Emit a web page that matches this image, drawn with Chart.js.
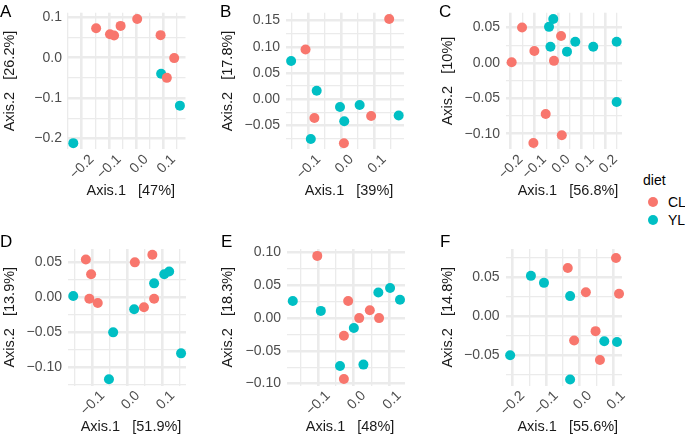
<!DOCTYPE html>
<html>
<head>
<meta charset="utf-8">
<script src="https://cdn.jsdelivr.net/npm/chart.js@4.4.0/dist/chart.umd.min.js"></script>
<style>
  html, body { margin: 0; padding: 0; background: #fff; }
  body { width: 685px; height: 436px; position: relative; overflow: hidden; font-family: 'Liberation Sans', Arial, sans-serif; }
  canvas { position: absolute; }
  .tag { position: absolute; font-size: 17px; line-height: 17px; color: #000; }
  .leg { position: absolute; font-size: 14px; line-height: 14px; color: #000; }
  .dot { position: absolute; width: 10px; height: 10px; border-radius: 50%; }
</style>
</head>
<body>
<script>
// colours for the two diets
const dietLevels = ['CL', 'YL'];
const dietColors = ['#F8766D', '#00BFC4'];

// axis percentages shown in the titles
const axis1Pct = ['47%', '39%', '56.8%', '51.9%', '48%', '55.6%'];
const axis2Pct = ['26.2%', '17.8%', '10%', '13.9%', '18.3%', '14.8%'];

// panel A  [Axis.1, Axis.2]
const aCL = [[-0.147, 0.073], [-0.096, 0.058], [-0.081, 0.055], [-0.057, 0.079], [0.004, 0.096], [0.090, 0.056], [0.140, -0.001], [0.113, -0.050]];
const aYL = [[-0.231, -0.212], [0.092, -0.040], [0.161, -0.119]];
const aXTicks = [-0.2, -0.1, 0, 0.1];
const aXLabels = ['−0.2', '−0.1', '0.0', '0.1'];
const aYTicks = [-0.2, -0.1, 0, 0.1];
const aYLabels = ['−0.2', '−0.1', '0.0', '0.1'];

// panel B
const bCL = [[0.146, 0.153], [-0.109, 0.095], [-0.082, -0.036], [0.008, -0.084], [0.091, -0.032]];
const bYL = [[-0.153, 0.073], [-0.075, 0.016], [-0.004, -0.015], [0.009, -0.042], [0.056, -0.011], [0.175, -0.031], [-0.093, -0.076]];
const bXTicks = [-0.1, 0, 0.1];
const bXLabels = ['−0.1', '0.0', '0.1'];
const bYTicks = [-0.05, 0, 0.05, 0.1, 0.15];
const bYLabels = ['−0.05', '0.00', '0.05', '0.10', '0.15'];

// panel C
const cCL = [[-0.152, 0.050], [-0.100, 0.017], [-0.196, 0.001], [-0.017, 0.003], [0.013, 0.038], [-0.052, -0.072], [0.016, -0.102], [-0.104, -0.113]];
const cYL = [[-0.038, 0.051], [-0.020, 0.062], [-0.032, 0.023], [0.038, 0.016], [0.073, 0.030], [0.149, 0.023], [0.248, 0.030], [0.248, -0.055]];
const cXTicks = [-0.2, -0.1, 0, 0.1, 0.2];
const cXLabels = ['−0.2', '−0.1', '0.0', '0.1', '0.2'];
const cYTicks = [-0.1, -0.05, 0, 0.05];
const cYLabels = ['−0.10', '−0.05', '0.00', '0.05'];

// panel D
const dCL = [[-0.119, 0.054], [-0.104, 0.033], [-0.109, -0.002], [-0.085, -0.008], [0.021, 0.050], [0.071, 0.061], [0.047, -0.014], [0.076, -0.002]];
const dYL = [[-0.155, 0.002], [-0.041, -0.050], [-0.053, -0.117], [0.019, -0.017], [0.076, 0.020], [0.105, 0.033], [0.119, 0.037], [0.153, -0.080]];
const dXTicks = [-0.1, 0, 0.1];
const dXLabels = ['−0.1', '0.0', '0.1'];
const dYTicks = [-0.1, -0.05, 0, 0.05];
const dYLabels = ['−0.10', '−0.05', '0.00', '0.05'];

// panel E
const eCL = [[-0.102, 0.095], [-0.015, 0.026], [-0.027, -0.027], [0.016, 0.000], [0.046, 0.012], [0.072, 0.000], [-0.027, -0.093]];
const eYL = [[-0.171, 0.026], [-0.092, 0.011], [0.001, -0.015], [-0.038, -0.073], [0.028, -0.071], [0.070, 0.039], [0.103, 0.046], [0.131, 0.028]];
const eXTicks = [-0.1, 0, 0.1];
const eXLabels = ['−0.1', '0.0', '0.1'];
const eYTicks = [-0.1, -0.05, 0, 0.05, 0.1];
const eYLabels = ['−0.10', '−0.05', '0.00', '0.05', '0.10'];

// panel F
const fCL = [[-0.035, 0.062], [0.019, 0.031], [0.048, -0.019], [-0.016, -0.031], [0.061, -0.056], [0.109, 0.075], [0.118, 0.029]];
const fYL = [[-0.145, 0.052], [-0.106, 0.043], [-0.028, 0.026], [0.074, -0.032], [-0.028, -0.081], [-0.207, -0.050], [0.112, -0.033]];
const fXTicks = [-0.2, -0.1, 0, 0.1];
const fXLabels = ['−0.2', '−0.1', '0.0', '0.1'];
const fYTicks = [-0.05, 0, 0.05];
const fYLabels = ['−0.05', '0.00', '0.05'];

// where each panel sits on the page and the visible axis limits
const panels = [
  { tag: 'A', cl: aCL, yl: aYL, xt: aXTicks, xl: aXLabels, yt: aYTicks, yl2: aYLabels, xr: [-0.2504, 0.1816], yr: [-0.2273, 0.1117], box: [68, 12.7, 185.5, 149.3], ytx: 9.3, xty: 191.5, tagPos: [0, 3] },
  { tag: 'B', cl: bCL, yl: bYL, xt: bXTicks, xl: bXLabels, yt: bYTicks, yl2: bYLabels, xr: [-0.1686, 0.1912], yr: [-0.0956, 0.1651], box: [286, 12.7, 404, 149.3], ytx: 228, xty: 191.5, tagPos: [220, 3] },
  { tag: 'C', cl: cCL, yl: cYL, xt: cXTicks, xl: cXLabels, yt: cYTicks, yl2: cYLabels, xr: [-0.2199, 0.2706], yr: [-0.1219, 0.0710], box: [506, 12.7, 622, 149.3], ytx: 447.5, xty: 191.5, tagPos: [439, 3] },
  { tag: 'D', cl: dCL, yl: dYL, xt: dXTicks, xl: dXLabels, yt: dYTicks, yl2: dYLabels, xr: [-0.170, 0.1671], yr: [-0.1259, 0.0691], box: [68, 249, 186, 385.5], ytx: 9.3, xty: 427.5, tagPos: [0, 233] },
  { tag: 'E', cl: eCL, yl: eYL, xt: eXTicks, xl: eXLabels, yt: eYTicks, yl2: eYLabels, xr: [-0.1873, 0.1451], yr: [-0.1029, 0.1055], box: [287, 249, 405, 385.5], ytx: 228, xty: 427.5, tagPos: [221, 233] },
  { tag: 'F', cl: fCL, yl: fYL, xt: fXTicks, xl: fXLabels, yt: fYTicks, yl2: fYLabels, xr: [-0.2209, 0.1269], yr: [-0.0888, 0.0865], box: [505.5, 249, 622, 385.5], ytx: 448, xty: 427.5, tagPos: [440, 233] }
];

Chart.defaults.font.family = "'Liberation Sans', Arial, sans-serif";
Chart.defaults.animation = false;

const TICK_SIZE = 14, TITLE_SIZE = 14.5, GRID = '#EBEBEB';

// majors plus the half-way minor lines ggplot draws, kept inside the limits
function gridValues(majors, range) {
  const step = majors[1] - majors[0];
  const vals = [majors[0] - step / 2];
  majors.forEach(m => { vals.push(m, m + step / 2); });
  return vals.map(v => Math.round(v * 1e6) / 1e6)
    .filter(v => v >= range[0] - 1e-6 && v <= range[1] + 1e-6);
}
const isMajor = (majors, v) => majors.some(m => Math.abs(m - v) < 1e-6);
function labelOf(majors, labels, v) {
  const i = majors.findIndex(m => Math.abs(m - v) < 1e-6);
  return i >= 0 ? labels[i] : '';
}

function makePanel(p, idx) {
  const [L, T, R, B] = p.box;
  const lh = TITLE_SIZE * 1.2;
  const cLeft = Math.round(p.ytx - lh / 2);
  const cTop = Math.round(T - 18);
  const cRight = Math.round(R + 18);
  const cBottom = Math.round(p.xty + lh / 2);
  const yW = L - cLeft, xH = cBottom - B;

  const cv = document.createElement('canvas');
  cv.width = cRight - cLeft; cv.height = cBottom - cTop;
  cv.style.left = cLeft + 'px'; cv.style.top = cTop + 'px';
  document.body.appendChild(cv);

  const xGrid = gridValues(p.xt, p.xr), yGrid = gridValues(p.yt, p.yr);
  const toPts = arr => arr.map(d => ({ x: d[0], y: d[1] }));

  new Chart(cv, {
    type: 'scatter',
    data: {
      datasets: [
        { label: dietLevels[0], data: toPts(p.cl), backgroundColor: dietColors[0], borderWidth: 0, pointRadius: 5, pointHoverRadius: 5 },
        { label: dietLevels[1], data: toPts(p.yl), backgroundColor: dietColors[1], borderWidth: 0, pointRadius: 5, pointHoverRadius: 5 }
      ]
    },
    options: {
      responsive: false,
      events: [],
      clip: false,
      layout: { padding: { left: 0, top: T - cTop, right: cRight - R, bottom: 0 } },
      plugins: { legend: { display: false }, tooltip: { enabled: false } },
      scales: {
        x: {
          type: 'linear', min: p.xr[0], max: p.xr[1],
          afterBuildTicks: ax => { ax.ticks = xGrid.map(v => ({ value: v })); },
          afterFit: ax => { ax.height = xH; },
          grid: { color: GRID, drawTicks: false, lineWidth: c => c.tick ? (isMajor(p.xt, c.tick.value) ? 2.6 : 1.3) : 0 },
          border: { display: false },
          ticks: {
            autoSkip: false, minRotation: 45, maxRotation: 45, padding: 2, labelOffset: 10,
            color: '#4D4D4D', font: { size: TICK_SIZE },
            callback: v => labelOf(p.xt, p.xl, v)
          },
          // two leading spaces nudge the title right, as in the original
          title: { display: true, text: '  Axis.1   [' + axis1Pct[idx] + ']', color: '#1A1A1A', font: { size: TITLE_SIZE }, padding: 0 }
        },
        y: {
          type: 'linear', min: p.yr[0], max: p.yr[1],
          afterBuildTicks: ax => { ax.ticks = yGrid.map(v => ({ value: v })); },
          afterFit: ax => { ax.width = yW; },
          grid: { color: GRID, drawTicks: false, lineWidth: c => c.tick ? (isMajor(p.yt, c.tick.value) ? 2.6 : 1.3) : 0 },
          border: { display: false },
          ticks: {
            autoSkip: false, padding: 6,
            color: '#4D4D4D', font: { size: TICK_SIZE },
            callback: v => labelOf(p.yt, p.yl2, v)
          },
          title: { display: true, text: 'Axis.2   [' + axis2Pct[idx] + ']', color: '#1A1A1A', font: { size: TITLE_SIZE }, padding: 0 }
        }
      }
    }
  });

  const t = document.createElement('div');
  t.className = 'tag';
  t.textContent = p.tag;
  t.style.left = p.tagPos[0] + 'px'; t.style.top = p.tagPos[1] + 'px';
  document.body.appendChild(t);
}

panels.forEach(makePanel);

// legend
function addText(txt, x, y) {
  const d = document.createElement('div');
  d.className = 'leg'; d.textContent = txt;
  d.style.left = x + 'px'; d.style.top = y + 'px';
  document.body.appendChild(d);
}
addText('diet', 643, 173);
dietLevels.forEach((lev, i) => {
  const cy = 202.3 + i * 17.7;
  const dot = document.createElement('div');
  dot.className = 'dot';
  dot.style.background = dietColors[i];
  dot.style.left = (653.3 - 5) + 'px'; dot.style.top = (cy - 5) + 'px';
  document.body.appendChild(dot);
  addText(lev, 668, cy - 7);
});
</script>
</body>
</html>
